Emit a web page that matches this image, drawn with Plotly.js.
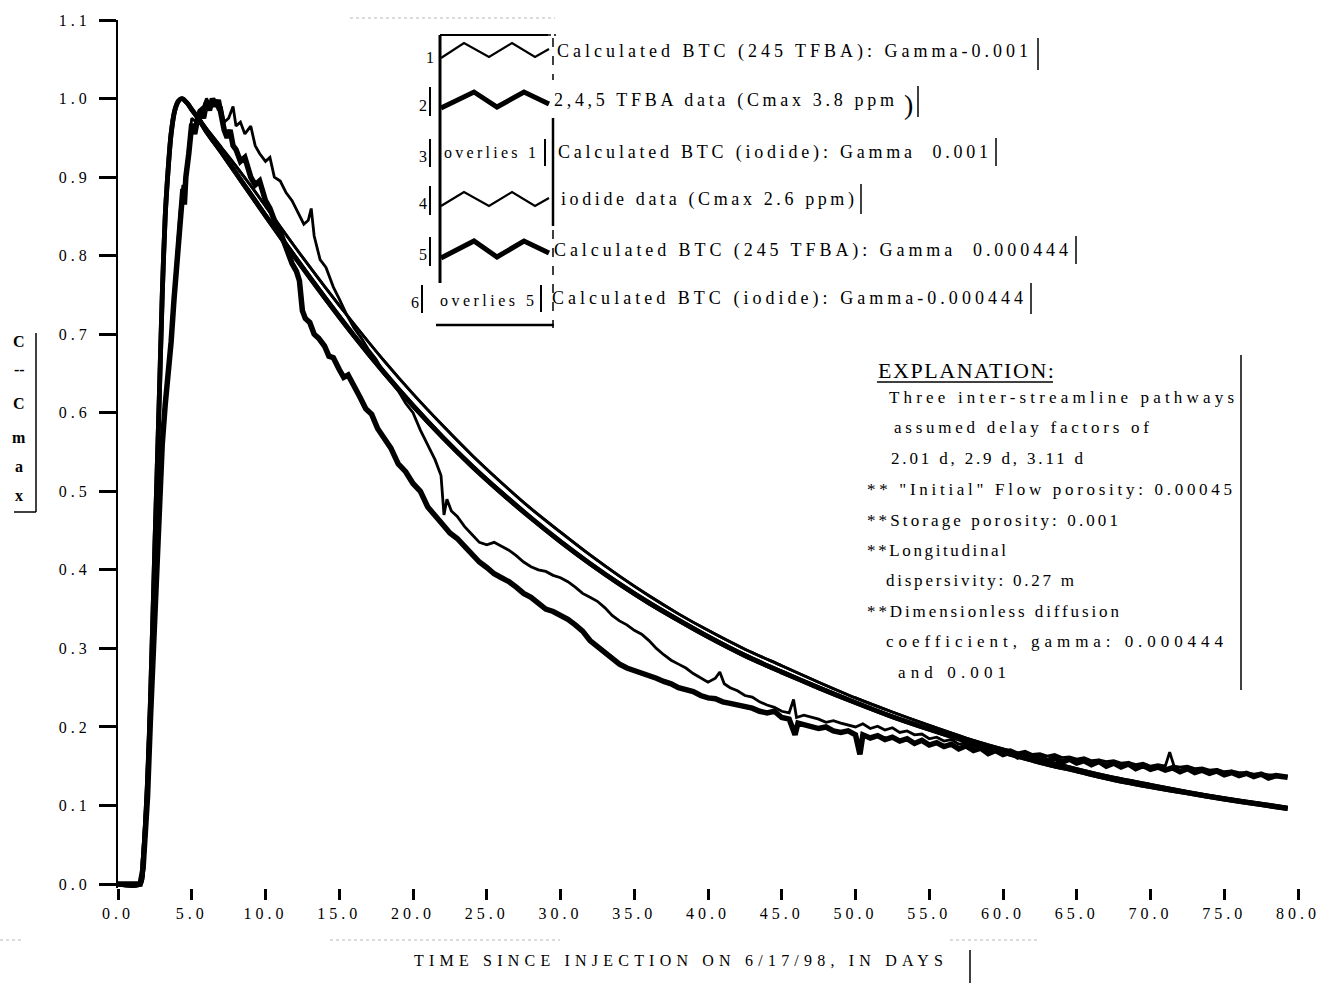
<!DOCTYPE html>
<html>
<head>
<meta charset="utf-8">
<script src="https://cdn.plot.ly/plotly-3.0.1.min.js"></script>
<style>
  html, body { margin: 0; padding: 0; background: #ffffff; }
  #chart { width: 1320px; height: 983px; }
</style>
</head>
<body>
<div id="chart"></div>
<script>
// ---- Breakthrough-curve values (C/Cmax versus days since injection) ----

// Calculated BTC curves (TFBA and iodide calculations plot on top of each other)
const calcDays = [0, 1.5, 1.7, 2.0, 2.2, 2.5, 2.8, 3.0, 3.2, 3.4,
  3.6, 3.85, 4.1, 4.35, 4.7, 5.0, 5.5, 6, 7, 8,
  9, 10, 12, 14, 16, 18, 20, 22, 24, 26,
  28, 30, 32, 34, 36, 38, 40, 42.5, 45, 47.5,
  50, 52.5, 55, 57.5, 60, 62.5, 65, 67.5, 70, 72.5,
  75, 77.5, 79.3];
const calcGamma001 = [0, 0, 0.03, 0.13, 0.234, 0.43, 0.62, 0.75, 0.85, 0.91,
  0.955, 0.985, 0.997, 1.0, 0.994, 0.987, 0.975, 0.962, 0.938, 0.914,
  0.889, 0.863, 0.811, 0.761, 0.713, 0.667, 0.624, 0.584, 0.546, 0.511,
  0.478, 0.448, 0.419, 0.392, 0.367, 0.344, 0.323, 0.299, 0.278, 0.257,
  0.237, 0.219, 0.202, 0.186, 0.172, 0.159, 0.147, 0.136, 0.127, 0.118,
  0.110, 0.103, 0.098];
const calcGamma000444 = [0, 0, 0.03, 0.13, 0.234, 0.43, 0.62, 0.75, 0.85, 0.91,
  0.955, 0.985, 0.997, 1.0, 0.994, 0.986, 0.973, 0.958, 0.932, 0.905,
  0.878, 0.851, 0.798, 0.747, 0.698, 0.652, 0.609, 0.569, 0.532, 0.498,
  0.466, 0.436, 0.408, 0.382, 0.358, 0.336, 0.315, 0.291, 0.270, 0.250,
  0.231, 0.213, 0.197, 0.182, 0.168, 0.155, 0.144, 0.133, 0.124, 0.116,
  0.108, 0.101, 0.096];

// 2,4,5 TFBA measured concentrations (Cmax 3.8 ppm)
const tfbaDays = [0, 1.5, 1.7, 2.0, 2.2, 2.4, 2.6, 2.8, 3.0, 3.2,
  3.4, 3.6, 3.8, 4.0, 4.2, 4.4, 4.5, 4.6, 4.8, 5.0,
  5.2, 5.4, 5.6, 5.8, 6.0, 6.2, 6.4, 6.6, 6.8, 7.0,
  7.2, 7.4, 7.6, 7.8, 8.0, 8.3, 8.6, 9.0, 9.3, 9.6,
  10.0, 10.3, 10.6, 11.0, 11.4, 11.8, 12.1, 12.3, 12.5, 12.7,
  13.0, 13.3, 13.6, 14.0, 14.3, 14.6, 15.0, 15.3, 15.6, 16.0,
  16.4, 16.8, 17.2, 17.6, 18.0, 18.5, 19.0, 19.5, 20.0, 20.5,
  21.0, 21.5, 22.0, 22.5, 23.0, 23.5, 24.0, 24.5, 25.0, 25.5,
  26.0, 26.5, 27.0, 27.5, 28.0, 28.5, 29.0, 29.5, 30.0, 30.5,
  31.0, 31.5, 32.0, 32.5, 33.0, 33.5, 34.0, 34.5, 35.0, 35.5,
  36, 36.5, 37, 37.5, 38, 38.5, 39, 39.5, 40, 40.5,
  41, 41.5, 42, 42.5, 43, 43.5, 44, 44.5, 45, 45.5,
  45.9, 46.1, 46.5, 47, 47.5, 48, 48.5, 49, 49.5, 50,
  50.3, 50.5, 51, 51.5, 52, 52.5, 53, 53.5, 54, 54.5,
  55, 55.5, 56, 56.5, 57, 57.5, 58, 58.5, 59, 59.5,
  60, 60.5, 61, 61.5, 62, 62.5, 63, 63.5, 64, 64.5,
  65, 65.5, 66, 66.5, 67, 67.5, 68, 68.5, 69, 69.5,
  70, 70.5, 71, 71.5, 72, 72.5, 73, 73.5, 74, 74.5,
  75, 75.5, 76, 76.5, 77, 77.5, 78, 78.5, 79.3];
const tfbaRelConc = [0, 0, 0.02, 0.11, 0.21, 0.30, 0.40, 0.49, 0.56, 0.61,
  0.645, 0.69, 0.745, 0.80, 0.85, 0.885, 0.865, 0.90, 0.93, 0.968,
  0.955, 0.975, 0.985, 0.975, 0.995, 0.985, 1.0, 0.99, 0.998, 0.975,
  0.96, 0.95, 0.96, 0.94, 0.935, 0.92, 0.925, 0.90, 0.89, 0.895,
  0.87, 0.86, 0.845, 0.83, 0.81, 0.79, 0.78, 0.768, 0.73, 0.72,
  0.715, 0.70, 0.695, 0.685, 0.672, 0.67, 0.655, 0.645, 0.648, 0.632,
  0.62, 0.605, 0.598, 0.58, 0.57, 0.555, 0.535, 0.525, 0.51, 0.50,
  0.48, 0.47, 0.458, 0.447, 0.44, 0.43, 0.42, 0.41, 0.403, 0.395,
  0.39, 0.385, 0.378, 0.37, 0.365, 0.358, 0.35, 0.347, 0.342, 0.337,
  0.33, 0.322, 0.31, 0.302, 0.296, 0.287, 0.28, 0.275, 0.272, 0.268,
  0.265, 0.262, 0.258, 0.255, 0.25, 0.248, 0.245, 0.24, 0.237, 0.236,
  0.232, 0.23, 0.228, 0.225, 0.224, 0.22, 0.218, 0.22, 0.212, 0.21,
  0.19, 0.205, 0.203, 0.20, 0.198, 0.20, 0.195, 0.193, 0.195, 0.19,
  0.165, 0.19, 0.186, 0.189, 0.184, 0.187, 0.182, 0.185, 0.179, 0.183,
  0.177, 0.18, 0.175, 0.178, 0.172, 0.176, 0.17, 0.173, 0.166, 0.17,
  0.165, 0.168, 0.162, 0.166, 0.16, 0.163, 0.157, 0.161, 0.155, 0.159,
  0.154, 0.157, 0.152, 0.156, 0.15, 0.154, 0.149, 0.153, 0.147, 0.151,
  0.146, 0.149, 0.145, 0.148, 0.143, 0.147, 0.142, 0.145, 0.141, 0.144,
  0.139, 0.142, 0.138, 0.141, 0.137, 0.14, 0.135, 0.138, 0.136];

// Iodide measured concentrations (Cmax 2.6 ppm)
const iodideDays = [0, 1.5, 1.7, 2.0, 2.2, 2.4, 2.6, 2.8, 3.0, 3.2,
  3.4, 3.6, 3.8, 4.0, 4.2, 4.4, 4.5, 4.6, 4.8, 5.0,
  5.3, 5.5, 5.8, 6.0, 6.3, 6.5, 6.8, 7.0, 7.2, 7.5,
  7.8, 8.0, 8.3, 8.6, 9.0, 9.3, 9.6, 10.0, 10.3, 10.6,
  11.0, 11.4, 11.8, 12.2, 12.6, 12.9, 13.1, 13.3, 13.7, 14.1,
  14.6, 15.0, 15.5, 16.0, 16.5, 17.0, 17.5, 18.0, 18.5, 19.0,
  19.5, 20.0, 20.5, 21.0, 21.5, 21.9, 22.1, 22.3, 22.6, 23.0,
  23.5, 24.0, 24.5, 25.0, 25.5, 26.0, 26.5, 27.0, 27.5, 28.0,
  28.5, 29.0, 29.5, 30.0, 30.5, 31.0, 31.5, 32.0, 32.5, 33.0,
  33.5, 34.0, 34.5, 35.0, 35.5, 36.0, 36.5, 37.0, 37.5, 38.0,
  38.5, 39.0, 39.5, 40.0, 40.5, 40.8, 41.1, 41.5, 42.0, 42.5,
  43.0, 43.5, 44.0, 44.5, 45.0, 45.5, 45.8, 46.0, 46.5, 47.0,
  47.5, 48, 48.5, 49, 49.5, 50, 50.5, 51, 51.5, 52,
  52.5, 53, 53.5, 54, 54.5, 55, 55.5, 56, 56.5, 57,
  57.5, 58, 58.5, 59, 59.5, 60, 60.5, 61, 61.5, 62,
  62.5, 63, 63.5, 64, 64.5, 65, 65.5, 66, 66.5, 67,
  67.5, 68, 68.5, 69, 69.5, 70, 70.5, 71, 71.3, 71.6,
  72, 72.5, 73, 73.5, 74, 74.5, 75, 75.5, 76, 76.5,
  77, 77.5, 78, 78.5, 79.3];
const iodideRelConc = [0, 0, 0.02, 0.12, 0.22, 0.31, 0.41, 0.50, 0.57, 0.62,
  0.65, 0.70, 0.75, 0.81, 0.855, 0.89, 0.87, 0.905, 0.94, 0.975,
  0.97, 0.985, 0.99, 1.0, 0.99, 1.0, 0.985, 0.99, 0.97, 0.975,
  0.99, 0.965, 0.97, 0.955, 0.965, 0.94, 0.93, 0.92, 0.925, 0.90,
  0.895, 0.88, 0.87, 0.855, 0.84, 0.845, 0.86, 0.825, 0.795, 0.785,
  0.76, 0.745, 0.725, 0.708, 0.695, 0.68, 0.668, 0.652, 0.64, 0.628,
  0.612, 0.60, 0.578, 0.56, 0.54, 0.52, 0.47, 0.49, 0.475, 0.468,
  0.455, 0.445, 0.435, 0.432, 0.435, 0.43, 0.425, 0.418, 0.41, 0.404,
  0.40, 0.398, 0.393, 0.39, 0.385, 0.378, 0.37, 0.365, 0.36, 0.352,
  0.342, 0.335, 0.33, 0.323, 0.318, 0.31, 0.30, 0.292, 0.285, 0.28,
  0.275, 0.268, 0.262, 0.257, 0.262, 0.27, 0.255, 0.25, 0.246, 0.24,
  0.238, 0.232, 0.228, 0.225, 0.22, 0.218, 0.235, 0.212, 0.215, 0.212,
  0.21, 0.206, 0.208, 0.205, 0.202, 0.20, 0.204, 0.198, 0.201, 0.196,
  0.199, 0.193, 0.195, 0.19, 0.191, 0.185, 0.187, 0.182, 0.184, 0.178,
  0.18, 0.175, 0.176, 0.172, 0.174, 0.17, 0.171, 0.167, 0.169, 0.165,
  0.166, 0.163, 0.165, 0.161, 0.162, 0.159, 0.161, 0.157, 0.158, 0.156,
  0.157, 0.154, 0.155, 0.152, 0.154, 0.15, 0.152, 0.15, 0.168, 0.15,
  0.149, 0.15, 0.147, 0.148, 0.145, 0.146, 0.143, 0.144, 0.142, 0.142,
  0.14, 0.141, 0.139, 0.139, 0.137];

// Axis ticks
const xTickVals = [0, 5, 10, 15, 20, 25, 30, 35, 40, 45, 50, 55, 60, 65, 70, 75, 80];
const xTickText = ['0.0', '5.0', '10.0', '15.0', '20.0', '25.0', '30.0', '35.0', '40.0',
  '45.0', '50.0', '55.0', '60.0', '65.0', '70.0', '75.0', '80.0'];
const yTickVals = [0, 0.1, 0.2, 0.3, 0.4, 0.5, 0.6, 0.7, 0.8, 0.9, 1.0, 1.1];
const yTickText = ['0.0', '0.1', '0.2', '0.3', '0.4', '0.5', '0.6', '0.7', '0.8', '0.9', '1.0', '1.1'];

// Legend entries (number, label)
const legendRows = [
  '1', 'Calculated BTC (245 TFBA): Gamma-0.001',
  '2', '2,4,5 TFBA data (Cmax 3.8 ppm',
  '3', 'Calculated BTC (iodide): Gamma\u00a0\u00a00.001',
  '4', 'iodide data (Cmax 2.6 ppm)',
  '5', 'Calculated BTC (245 TFBA): Gamma\u00a0\u00a00.000444',
  '6', 'Calculated BTC (iodide): Gamma-0.000444'
];
const explanationLines = [
  'Three inter-streamline pathways',
  'assumed delay factors of',
  '2.01 d, 2.9 d, 3.11 d',
  '** "Initial" Flow porosity: 0.00045',
  '**Storage porosity: 0.001',
  '**Longitudinal',
  'dispersivity: 0.27 m',
  '**Dimensionless diffusion',
  'coefficient, gamma: 0.000444',
  'and 0.001'
];

// ---- Page geometry helpers (pixel -> paper coordinates) ----
const ML = 118, PW = 1180, PT = 20, PH = 868;
const FONT = 'Liberation Serif, Times New Roman, serif';
function fx(px) { return (px - ML) / PW; }
function fy(py) { return (PT + PH - py) / PH; }

const annotations = [];
const fits = [];   // [annotation index, target width in px]
function label(text, x, y, size, fitWidth, opts) {
  const a = Object.assign({
    text: text, x: fx(x), y: fy(y), xref: 'paper', yref: 'paper',
    xanchor: 'left', yanchor: 'middle', align: 'left', showarrow: false,
    borderpad: 0, font: { family: FONT, size: size, color: '#000' }
  }, opts || {});
  annotations.push(a);
  if (fitWidth) fits.push([annotations.length - 1, fitWidth]);
}

const shapes = [];
function seg(x0, y0, x1, y1, w, dash, color) {
  shapes.push({ type: 'line', xref: 'paper', yref: 'paper',
    x0: fx(x0), y0: fy(y0), x1: fx(x1), y1: fy(y1),
    line: { color: color || '#000', width: w, dash: dash || 'solid' } });
}
function zigzag(pts, w) {
  const d = pts.map((p, i) => (i ? 'L' : 'M') + fx(p[0]).toFixed(5) + ',' + fy(p[1]).toFixed(5)).join(' ');
  shapes.push({ type: 'path', xref: 'paper', yref: 'paper', path: d,
    line: { color: '#000', width: w } });
}

// ---- Legend block ----
const rowY = [52, 100, 152, 199, 250, 298];
const numX = [425, 418, 418, 418, 418, 410];
const textX = [556, 553, 557, 560, 553, 551];
const textW = [471, 340, 430, 293, 514, 471];
for (let i = 0; i < 6; i++) {
  label(legendRows[2 * i], numX[i], rowY[i] + 5, 16);
  label(legendRows[2 * i + 1], textX[i], rowY[i], 18, textW[i]);
}
label(')', 903, 104, 28);
label('overlies 1', 443, 153, 16, 92);
label('overlies 5', 439, 300, 16, 94);

// frame of the legend
seg(440, 35, 548, 35, 2);
seg(548, 35, 556, 35, 1.5, 'dot');
seg(440, 35, 440, 283, 3);
seg(553, 38, 553, 80, 1.5, 'dash');
seg(553, 118, 553, 226, 2.5);
seg(553, 230, 553, 328, 1.5, 'dash');
seg(436, 325, 554, 325, 2.5);
// bracket ticks beside the entry numbers and labels
seg(430, 87, 430, 116, 2); seg(430, 139, 430, 167, 2); seg(430, 186, 430, 215, 2);
seg(430, 237, 430, 266, 2); seg(422, 285, 422, 313, 2);
seg(545, 139, 545, 166, 2); seg(541, 285, 541, 312, 2);
seg(1038, 38, 1038, 70, 1.5); seg(918, 86, 918, 117, 1.5); seg(996, 138, 996, 166, 1.5);
seg(861, 184, 861, 214, 1.5); seg(1076, 236, 1076, 264, 1.5); seg(1031, 283, 1031, 314, 1.5);
// line-style samples
zigzag([[441, 58], [464, 43], [489, 57], [512, 43], [535, 57], [549, 49]], 2.2);
zigzag([[441, 108], [474, 92], [497, 107], [524, 92], [549, 104]], 5);
zigzag([[441, 206], [464, 192], [489, 206], [512, 192], [535, 206], [549, 198]], 2.2);
zigzag([[441, 258], [474, 241], [497, 257], [524, 241], [549, 253]], 5);

// ---- Explanation block ----
label('EXPLANATION:', 877, 370, 22, 176);
seg(877, 382, 1053, 382, 1.5);
const explX = [888, 893, 890, 866, 866, 866, 885, 866, 885, 897];
const explY = [397, 427, 458, 490, 520, 550, 580, 611, 641, 672];
const explW = [345, 255, 192, 365, 251, 139, 188, 252, 337, 108];
for (let i = 0; i < explanationLines.length; i++) {
  label(explanationLines[i], explX[i], explY[i], 17, explW[i]);
}
seg(1241, 355, 1241, 690, 1.5);

// ---- Axis titles ----
const yTitle = ['C', '--', 'C', 'm', 'a', 'x'];
const yTitleY = [341, 369, 403, 437, 466, 496];
yTitle.forEach((t, i) => label('<b>' + t + '</b>', 19, yTitleY[i], 16, 0, { xanchor: 'center', align: 'center' }));
seg(36, 333, 36, 512, 1.5);
seg(14, 512, 36, 512, 1.5);
label('TIME SINCE INJECTION ON 6/17/98, IN DAYS', 413, 960, 16, 529);
seg(970, 950, 970, 985, 1.5);

// faint dotted marks
seg(350, 18, 555, 18, 1, 'dot', '#b8b8b8');
seg(330, 940, 560, 940, 1, 'dot', '#b8b8b8');
seg(950, 940, 1040, 940, 1, 'dot', '#b8b8b8');
seg(0, 940, 22, 940, 1, 'dot', '#b8b8b8');

// ---- Traces ----
function curve(name, x, y, width, spline) {
  return { type: 'scatter', mode: 'lines', name: name, x: x, y: y, showlegend: false,
    hoverinfo: 'skip',
    line: { color: '#000', width: width, shape: spline ? 'spline' : 'linear', smoothing: 0.8 } };
}
const traces = [
  curve('Calculated BTC (245 TFBA): Gamma 0.001', calcDays, calcGamma001, 2.8, true),
  curve('2,4,5 TFBA data', tfbaDays, tfbaRelConc, 5.5, false),
  curve('Calculated BTC (iodide): Gamma 0.001', calcDays, calcGamma001, 2.8, true),
  curve('iodide data', iodideDays, iodideRelConc, 2.8, false),
  curve('Calculated BTC (245 TFBA): Gamma 0.000444', calcDays, calcGamma000444, 4.8, true),
  curve('Calculated BTC (iodide): Gamma 0.000444', calcDays, calcGamma000444, 4.8, true)
];

const layout = {
  width: 1320, height: 983,
  margin: { l: ML, r: 1320 - ML - PW, t: PT, b: 983 - PT - PH, pad: 0 },
  paper_bgcolor: '#ffffff', plot_bgcolor: '#ffffff',
  showlegend: false,
  font: { family: FONT, color: '#000' },
  xaxis: {
    range: [0, 80], tickmode: 'array', tickvals: xTickVals, ticktext: xTickText,
    ticks: 'outside', ticklen: 11, tickwidth: 3, tickcolor: '#000',
    showline: false, showgrid: false, zeroline: false,
    tickfont: { family: FONT, size: 16, color: '#000' }
  },
  yaxis: {
    range: [-0.005, 1.1], tickmode: 'array', tickvals: yTickVals, ticktext: yTickText,
    ticks: 'outside', ticklen: 17, tickwidth: 3, tickcolor: '#000',
    showline: true, linewidth: 2, linecolor: '#000', mirror: false,
    showgrid: false, zeroline: false, ticklabelstandoff: 5,
    tickfont: { family: FONT, size: 16, color: '#000' }
  },
  annotations: annotations,
  shapes: shapes
};

const gd = document.getElementById('chart');
Plotly.newPlot(gd, traces, layout, { displayModeBar: false, staticPlot: true }).then(() => {
  // typewriter-like spacing of the scanned lettering
  gd.querySelectorAll('.xtick text, .ytick text').forEach(t => { t.style.letterSpacing = '4px'; });
  fits.forEach(([i, w]) => {
    const t = gd.querySelector('.annotation[data-index="' + i + '"] text.annotation-text');
    if (!t) return;
    const n = t.textContent.length;
    const natural = t.getComputedTextLength();
    if (n > 1 && w > natural) t.style.letterSpacing = ((w - natural) / (n - 1)) + 'px';
  });
});
</script>
</body>
</html>
